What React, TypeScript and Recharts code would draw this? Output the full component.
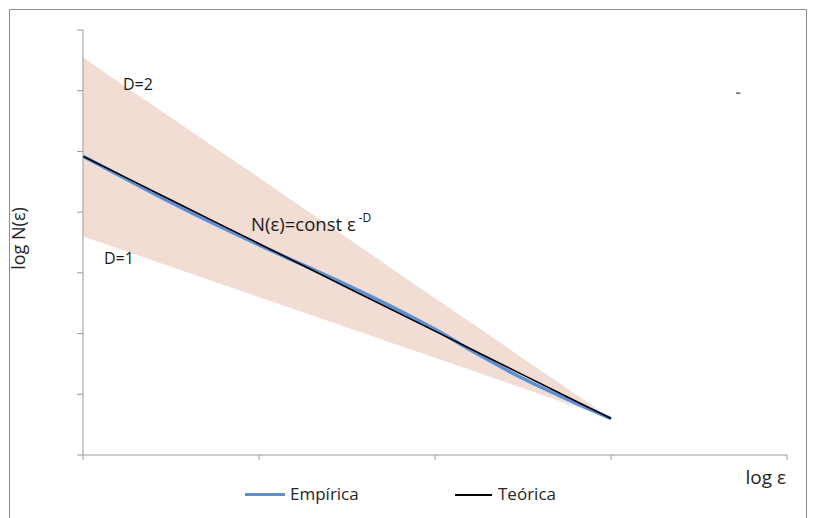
import React from "react";
import {
  ComposedChart,
  Area,
  Line,
  XAxis,
  YAxis,
  Legend,
  ReferenceDot,
  ReferenceLine,
} from "recharts";

// log ε positions
const logEps = [0, 0.25, 0.5, 0.75, 1, 1.25, 1.5, 1.75, 2, 2.25, 2.5, 2.75, 3];
const empirica = [4.92, 4.54, 4.16, 3.8, 3.46, 3.13, 2.8, 2.45, 2.07, 1.65, 1.26, 0.92, 0.6];
// fitted straight line
const teorica = [4.92, 4.56, 4.2, 3.84, 3.48, 3.12, 2.76, 2.4, 2.04, 1.68, 1.32, 0.96, 0.6];
// shaded band between D=1 and D=2
const bandUpper = [6.55, 6.05, 5.56, 5.06, 4.57, 4.07, 3.58, 3.08, 2.58, 2.09, 1.59, 1.1, 0.6];
const bandLower = [3.6, 3.35, 3.1, 2.85, 2.6, 2.35, 2.1, 1.85, 1.6, 1.35, 1.1, 0.85, 0.6];

const xTicks = [0, 1, 2, 3, 4];
const yTicks = [0, 1, 2, 3, 4, 5, 6, 7];

const AXIS = "#9a9a9a";
const BLUE = "#5b8fd5";
const BAND = "#f2ddd5";
const FONT = "'Open Sans', sans-serif";

const data = logEps.map((x, i) => ({
  x,
  empirica: empirica[i],
  teorica: teorica[i],
  band: [bandLower[i], bandUpper[i]],
}));

const LegendContent = () => (
  <div style={{ position: "relative", width: 815, height: 24, fontFamily: FONT, fontSize: 17, color: "#262626", lineHeight: "24px" }}>
    <div style={{ position: "absolute", left: 245, top: 10, width: 40, height: 3, background: BLUE }} />
    <span style={{ position: "absolute", left: 290, top: -1 }}>Empírica</span>
    <div style={{ position: "absolute", left: 455, top: 11, width: 37, height: 2, background: "#000" }} />
    <span style={{ position: "absolute", left: 498, top: -1 }}>Teórica</span>
  </div>
);

const YTitle = (props: any) => {
  const vb = props.viewBox;
  const x = vb.x - 55;
  const y = vb.y + vb.height / 2 - 4;
  return (
    <text x={x} y={y} transform={`rotate(-90, ${x}, ${y})`} textAnchor="middle" dominantBaseline="central" fontSize={18} fill="#262626" fontFamily={FONT}>
      log N(ε)
    </text>
  );
};

const FormulaLabel = (props: any) => {
  const vb = props.viewBox;
  return (
    <text x={vb.x} y={vb.y} dominantBaseline="central" fontSize={18.5} fill="#1a1a1a" fontFamily={FONT}>
      N(ε)=const ε
      <tspan dx={3} dy={-6} fontSize={12}>
        -D
      </tspan>
    </text>
  );
};

export default function App() {
  return (
    <div style={{ position: "absolute", left: 0, top: 0, width: 815, height: 518, background: "#fff", overflow: "hidden", fontFamily: FONT }}>
      <div style={{ position: "absolute", left: 9, top: 9, width: 798, height: 520, border: "1px solid #8c8c8c", boxSizing: "border-box" }} />
      <ComposedChart width={815} height={518} data={data} margin={{ top: 30, right: 28, bottom: 9, left: 73 }}>
        <XAxis
          dataKey="x"
          type="number"
          domain={[0, 4]}
          ticks={xTicks}
          tickFormatter={() => ""}
          tickSize={5}
          height={30}
          stroke={AXIS}
          label={{ value: "log ε", position: "insideBottomRight", offset: 1, fill: "#262626", fontSize: 19 }}
        />
        <YAxis
          type="number"
          domain={[0, 7]}
          ticks={yTicks}
          tickFormatter={() => ""}
          tickSize={6}
          width={10}
          stroke={AXIS}
          label={{ content: YTitle }}
        />
        <Area dataKey="band" type="linear" stroke="none" fill={BAND} fillOpacity={1} isAnimationActive={false} legendType="none" />
        <Line dataKey="empirica" name="Empírica" type="monotone" stroke={BLUE} strokeWidth={3.5} dot={false} isAnimationActive={false} />
        <Line dataKey="teorica" name="Teórica" type="linear" stroke="#000" strokeWidth={1.6} dot={false} isAnimationActive={false} />
        <ReferenceDot x={0.227} y={6.11} r={0} stroke="none" label={{ value: "D=2", position: "right", offset: 0, fill: "#1a1a1a", fontSize: 16 }} />
        <ReferenceDot x={0.119} y={3.245} r={0} stroke="none" label={{ value: "D=1", position: "right", offset: 0, fill: "#1a1a1a", fontSize: 16 }} />
        <ReferenceDot x={0.955} y={3.82} r={0} stroke="none" label={{ content: FormulaLabel }} />
        <ReferenceLine segment={[{ x: 3.71, y: 5.96 }, { x: 3.735, y: 5.96 }]} stroke="#666" strokeWidth={1.5} />
        <Legend content={LegendContent} wrapperStyle={{ left: 0, top: 483, width: 815 }} />
      </ComposedChart>
    </div>
  );
}
